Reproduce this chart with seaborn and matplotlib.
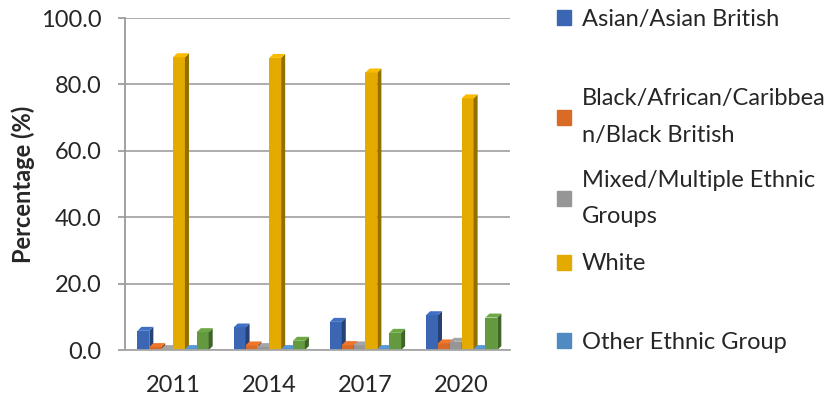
import pandas as pd
import numpy as np
import matplotlib.pyplot as plt
import seaborn as sns
from matplotlib.patches import Polygon
from matplotlib.colors import to_rgb

# Values (percent of population)
years = ['2011', '2014', '2017', '2020']
groups = ['Asian/Asian British', 'Black/African/Caribbea\nn/Black British',
          'Mixed/Multiple Ethnic\nGroups', 'White', 'Other Ethnic Group', 'Unstated']
asian = [5.8, 6.8, 8.5, 10.5]
black = [0.9, 1.4, 1.5, 2.0]
mixed = [0.3, 0.9, 1.4, 2.5]
white = [88.2, 88.0, 83.6, 75.8]
other = [0.3, 0.3, 0.3, 0.3]
unstated = [5.4, 2.8, 5.2, 9.8]
colors = ['#3A66B3', '#D96B27', '#969696', '#E3AB00', '#4F8AC2', '#63993F']

series = [asian, black, mixed, white, other, unstated]
df = pd.DataFrame({
    'Year': years * len(groups),
    'Group': [g for g in groups for _ in years],
    'Value': [v for s in series for v in s],
})

sns.set_theme(style='white')
plt.rcParams['font.family'] = ['Lato', 'DejaVu Sans']
FS = 17

fig = plt.figure(figsize=(8.33, 4.01), dpi=100)
ax = fig.add_axes([0.15, 0.127, 0.462, 0.828])

sns.barplot(data=df, x='Year', y='Value', hue='Group', palette=colors,
            width=0.74, ax=ax, legend=False, saturation=1)

# fake 3D: darker side face and lighter top face on each bar,
# later series drawn in front of earlier ones
dx, dy = 0.042, 1.2
n_years = len(years)
for i, patch in enumerate(list(ax.patches)):
    z = 2 + (i // n_years) * 0.1
    x0, w, h = patch.get_x(), patch.get_width(), patch.get_height()
    patch.set_linewidth(0)
    patch.set_zorder(z)
    r, g, b = to_rgb(patch.get_facecolor())
    dark = (r * 0.65, g * 0.65, b * 0.65)
    light = (min(1, r * 1.1), min(1, g * 1.1), min(1, b * 1.1))
    xr = x0 + w
    ax.add_patch(Polygon([(xr, 0), (xr + dx, dy), (xr + dx, h + dy), (xr, h)],
                         closed=True, facecolor=dark, linewidth=0, zorder=z))
    ax.add_patch(Polygon([(x0, h), (x0 + dx, h + dy), (xr + dx, h + dy), (xr, h)],
                         closed=True, facecolor=light, linewidth=0, zorder=z))

ax.set_ylim(0, 100)
ax.set_xlim(-0.5, 3.5)
ax.set_yticks(np.arange(0, 101, 20))
ax.set_yticklabels([f'{t:.1f}' for t in np.arange(0, 101, 20)], fontsize=FS)
ax.tick_params(axis='x', labelsize=FS, length=0, pad=18)
ax.tick_params(axis='y', length=5, color='#9a9a9a', direction='out', left=True, pad=12)
ax.yaxis.grid(True, color='#a6a6a6', linewidth=1.3)
ax.set_axisbelow(True)
for side in ['top', 'right']:
    ax.spines[side].set_visible(False)
ax.spines['left'].set_color('#9a9a9a')
ax.spines['left'].set_linewidth(1.3)
ax.spines['bottom'].set_color('#a6a6a6')
ax.spines['bottom'].set_linewidth(1.3)
ax.set_xlabel('')
ax.set_ylabel('Percentage (%)', fontsize=FS, fontweight='bold', labelpad=4)

# legend entries at the uneven spacing of the original
legend_y = [0.952, 0.708, 0.505, 0.342, 0.147]
for color, label, y in zip(colors[:5], groups[:5], legend_y):
    leg = fig.legend([plt.Rectangle((0, 0), 1, 1, color=color)], [label],
                     loc='center left', bbox_to_anchor=(0.669, y), frameon=False,
                     fontsize=FS, handlelength=0.6, handleheight=0.6,
                     handletextpad=0.45, borderpad=0, borderaxespad=0)
    for t in leg.get_texts():
        t.set_linespacing(1.9)

fig.savefig('out.png', dpi=100)
